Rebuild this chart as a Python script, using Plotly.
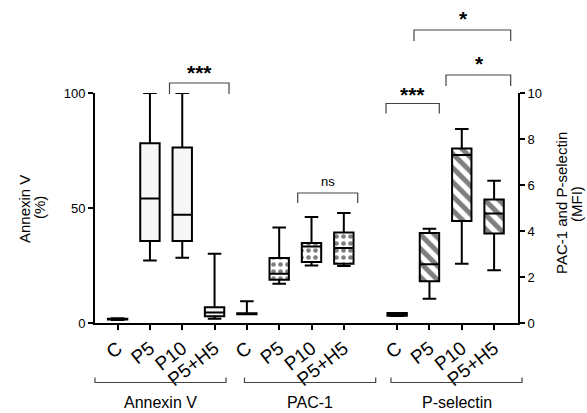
import plotly.graph_objects as go

# ---------------- data ----------------
categories = ["C", "P5", "P10", "P5+H5"]
group_names = ["Annexin V", "PAC-1", "P-selectin"]
annexin_x = [0, 1, 2, 3]
pac1_x = [4, 5, 6, 7]
psel_x = [8.65, 9.65, 10.65, 11.65]

annexin_min = [1.3, 27.2, 28.4, 1.8]
annexin_q1 = [1.5, 35.7, 35.7, 2.9]
annexin_med = [1.7, 54.1, 47.1, 4.6]
annexin_q3 = [1.9, 78.1, 76.3, 6.9]
annexin_max = [2.1, 100.0, 100.0, 30.1]

pac1_min = [0.38, 1.71, 2.50, 2.48]
pac1_q1 = [0.38, 1.88, 2.65, 2.58]
pac1_med = [0.40, 2.14, 3.33, 3.26]
pac1_q3 = [0.42, 2.83, 3.48, 3.93]
pac1_max = [0.95, 4.15, 4.61, 4.78]

psel_min = [0.30, 1.05, 2.58, 2.29]
psel_q1 = [0.31, 1.81, 4.44, 3.89]
psel_med = [0.37, 2.55, 7.30, 4.76]
psel_q3 = [0.43, 3.91, 7.59, 5.37]
psel_max = [0.44, 4.10, 8.43, 6.18]

left_ticks = [0, 50, 100]
right_ticks = [0, 2, 4, 6, 8, 10]

FONT = "Liberation Sans, Arial, sans-serif"
W, H = 587, 413
ML, MR, MT, MB = 95, 69, 93, 90
XR = [-0.70, 12.39]


def px(xp, yp):
    """pixel position -> paper coordinates"""
    return (xp - ML) / (W - ML - MR), (H - MB - yp) / (H - MT - MB)


fig = go.Figure()

BW = 0.6

# pattern fills (drawn under the box outlines)
fig.add_trace(go.Bar(
    x=pac1_x, base=pac1_q1, y=[b - a for a, b in zip(pac1_q1, pac1_q3)],
    width=BW, yaxis="y2", showlegend=False, hoverinfo="skip",
    marker=dict(color="white", line=dict(width=0),
                pattern=dict(shape=".", fgcolor="black", bgcolor="white",
                             size=7, solidity=0.35))))
fig.add_trace(go.Bar(
    x=psel_x, base=psel_q1, y=[b - a for a, b in zip(psel_q1, psel_q3)],
    width=BW, yaxis="y2", showlegend=False, hoverinfo="skip",
    marker=dict(color="white", line=dict(width=0),
                pattern=dict(shape="\\", fgcolor="black", bgcolor="white",
                             size=10, solidity=0.5))))

box_style = dict(width=BW, whiskerwidth=0.7, line=dict(color="black", width=2),
                 showlegend=False, boxpoints=False)
fig.add_trace(go.Box(x=annexin_x, q1=annexin_q1, median=annexin_med, q3=annexin_q3,
                     lowerfence=annexin_min, upperfence=annexin_max,
                     fillcolor="#f7f7f7", yaxis="y", **box_style))
fig.add_trace(go.Box(x=pac1_x, q1=pac1_q1, median=pac1_med, q3=pac1_q3,
                     lowerfence=pac1_min, upperfence=pac1_max,
                     fillcolor="rgba(0,0,0,0)", yaxis="y2", **box_style))
fig.add_trace(go.Box(x=psel_x, q1=psel_q1, median=psel_med, q3=psel_q3,
                     lowerfence=psel_min, upperfence=psel_max,
                     fillcolor="rgba(0,0,0,0)", yaxis="y2", **box_style))

shapes = []
annotations = []
BR = dict(color="#444", width=1.2)


def bracket(x0, x1, y, leg):
    ax0, ay = px(x0, y)
    ax1, _ = px(x1, y)
    _, ayl = px(x0, y + leg)
    shapes.append(dict(type="path", xref="paper", yref="paper",
                       path=f"M{ax0},{ayl} L{ax0},{ay} L{ax1},{ay} L{ax1},{ayl}",
                       line=BR))


def label(text, xp, yp, size, bold=False, angle=0):
    ax, ay = px(xp, yp)
    annotations.append(dict(text=f"<b>{text}</b>" if bold else text,
                            x=ax, y=ay, xref="paper", yref="paper",
                            showarrow=False, textangle=angle,
                            font=dict(family=FONT, size=size, color="black"),
                            xanchor="center", yanchor="middle"))


# significance brackets
bracket(169.5, 229.0, 83, 11)
label("***", 199, 72, 21, bold=True)
bracket(297.7, 357.7, 193, 10)
label("ns", 327.7, 181, 13)
bracket(386, 439.3, 103.5, 10)
label("***", 412.7, 94, 21, bold=True)
bracket(446, 510.7, 75, 11)
label("*", 479, 63, 21, bold=True)
bracket(414, 510.7, 30, 11)
label("*", 463, 18, 21, bold=True)

# group brackets at the bottom
group_spans = [(95, 226), (244.5, 375.7), (391, 522)]
for (a, b), name in zip(group_spans, group_names):
    bracket(a, b, 382.5, -5)
    label(name, (a + b) / 2, 402.5, 16)

# axis titles
label("Annexin V", 24, 209, 15, angle=-90)
label("(%)", 39, 208, 15, angle=-90)
label("PAC-1 and P-selectin", 561, 203, 15, angle=-90)
label("(MFI)", 576, 204, 15, angle=-90)

axis_common = dict(showline=True, linecolor="black", linewidth=2, ticks="outside",
                   ticklen=5, tickwidth=2, tickcolor="black", showgrid=False,
                   zeroline=False, fixedrange=True)

fig.update_layout(
    width=W, height=H,
    margin=dict(l=ML, r=MR, t=MT, b=MB, pad=0),
    paper_bgcolor="white", plot_bgcolor="white",
    barmode="overlay", boxmode="overlay",
    font=dict(family=FONT, color="black"),
    xaxis=dict(range=XR, tickvals=annexin_x + pac1_x + psel_x,
               ticktext=categories * 3, tickangle=-38,
               tickfont=dict(size=19), **axis_common),
    yaxis=dict(range=[0, 100], tickvals=left_ticks, tickfont=dict(size=13),
               **axis_common),
    yaxis2=dict(range=[0, 10], tickvals=right_ticks, tickfont=dict(size=13),
                overlaying="y", side="right", **axis_common),
    shapes=shapes, annotations=annotations,
)

fig.write_html("out.html")
